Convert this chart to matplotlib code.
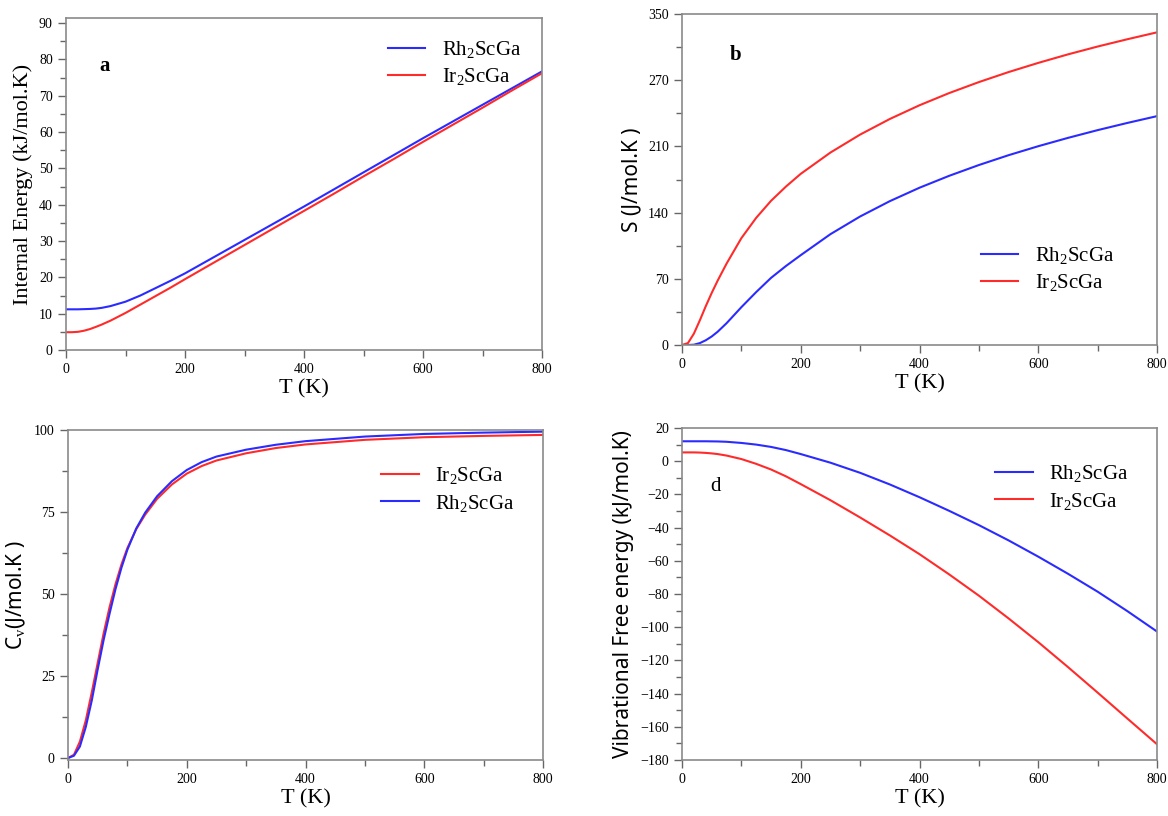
import matplotlib
matplotlib.use("Agg")
import matplotlib.pyplot as plt
from matplotlib.ticker import MultipleLocator, FixedLocator

plt.rcParams["font.family"] = "Liberation Serif"
plt.rcParams["mathtext.fontset"] = "custom"
plt.rcParams["mathtext.rm"] = "Liberation Serif"
plt.rcParams["mathtext.it"] = "Liberation Serif:italic"

# temperature grid (K)
T = [0, 10, 20, 30, 40, 50, 60, 75, 100, 125, 150, 175, 200,
     250, 300, 350, 400, 450, 500, 550, 600, 650, 700, 750, 800]

# (a) internal energy, kJ/mol.K
rh_U = [11.2, 11.2, 11.2, 11.25, 11.3, 11.4, 11.6, 12.1, 13.3, 15.0, 17.0, 19.0, 21.1,
        25.7, 30.3, 34.9, 39.5, 44.2, 48.9, 53.6, 58.3, 62.9, 67.5, 72.1, 76.7]
ir_U = [4.9, 4.9, 5.0, 5.3, 5.75, 6.35, 7.0, 8.1, 10.2, 12.5, 14.8, 17.1, 19.5,
        24.2, 28.9, 33.6, 38.3, 43.0, 47.8, 52.5, 57.3, 62.0, 66.7, 71.5, 76.2]

# (b) entropy, J/mol.K
rh_S = [0.0, 0.0, 0.3, 2.0, 5.0, 9.0, 14.0, 23.0, 40.0, 56.0, 71.0, 83.5, 95.0,
        117.2, 135.9, 152.1, 166.3, 178.9, 190.3, 200.7, 210.2, 219.0, 227.2, 234.8, 242.0]
ir_S = [0.0, 2.0, 12.0, 26.0, 41.0, 55.0, 68.0, 86.0, 113.0, 134.5, 152.5, 167.5, 181.0,
        203.5, 222.5, 239.0, 253.5, 266.4, 278.0, 288.6, 298.3, 307.3, 315.6, 323.3, 330.6]

# (c) heat capacity, J/mol.K (own, denser temperature grid)
T_cv = [0, 10, 20, 30, 40, 50, 60, 70, 80, 90, 100, 115, 130, 150, 175, 200,
        225, 250, 300, 350, 400, 500, 600, 700, 800]
rh_Cv = [0.0, 0.7, 3.5, 9.5, 17.5, 27.0, 36.0, 44.0, 51.5, 58.0, 63.5, 70.0, 74.8, 79.8,
         84.4, 87.8, 90.2, 91.9, 94.0, 95.5, 96.6, 98.0, 98.8, 99.2, 99.5]
ir_Cv = [0.0, 1.0, 5.0, 11.5, 20.0, 29.0, 38.0, 46.0, 53.0, 59.0, 64.0, 69.8, 74.2, 79.0,
         83.4, 86.7, 89.0, 90.7, 92.9, 94.5, 95.6, 97.0, 97.8, 98.2, 98.5]

# (d) vibrational free energy, kJ/mol.K
rh_F = [12.0, 12.0, 12.0, 12.0, 12.0, 11.95, 11.9, 11.7, 11.0, 10.0, 8.6, 6.7, 4.3,
        -0.9, -7.0, -14.0, -21.7, -29.9, -38.5, -47.7, -57.5, -67.8, -78.6, -90.3, -102.6]
ir_F = [5.3, 5.3, 5.3, 5.2, 5.0, 4.7, 4.3, 3.4, 1.3, -1.6, -5.0, -9.1, -13.8,
        -23.5, -33.9, -44.7, -56.0, -68.2, -81.0, -94.7, -109.0, -124.0, -139.4, -155.0, -170.5]

BLUE = "#2b2bff"
RED = "#ff2b2b"
RH = "Rh$_{2}$ScGa"
IR = "Ir$_{2}$ScGa"
SANS = "Noto Sans"


def style_axes(ax, ymajor, yminor):
    for s in ax.spines.values():
        s.set_color("#8a8a8a")
        s.set_linewidth(1.2)
    ax.set_xlim(0, 800)
    ax.xaxis.set_major_locator(MultipleLocator(200))
    ax.xaxis.set_minor_locator(MultipleLocator(100))
    if ymajor is not None:
        ax.yaxis.set_major_locator(MultipleLocator(ymajor))
    ax.yaxis.set_minor_locator(MultipleLocator(yminor))
    ax.tick_params(which="both", color="#666666", labelsize=10, width=1.0)
    ax.tick_params(which="major", length=6)
    ax.tick_params(which="minor", length=4)
    ax.set_xlabel("T (K)", fontsize=16, labelpad=2)


def add_legend(ax, **kw):
    ax.legend(frameon=False, fontsize=15, handlelength=1.8, labelspacing=0.3, **kw)


fig = plt.figure(figsize=(11.68, 8.16), dpi=100)
W, H = 1168, 816


def add_ax(l, r, t, b):
    return fig.add_axes([l / W, 1 - b / H, (r - l) / W, (b - t) / H])


# a
ax = add_ax(66, 542, 18, 350)
ax.plot(T, rh_U, color=BLUE, lw=1.5, label=RH)
ax.plot(T, ir_U, color=RED, lw=1.5, label=IR)
ax.set_ylim(0, 91.4)
style_axes(ax, 10, 5)
ax.set_ylabel("Internal Energy (kJ/mol.K)", fontsize=16, labelpad=4)
ax.text(0.07, 0.84, "a", transform=ax.transAxes, fontsize=15, fontweight="bold")
add_legend(ax, loc="upper right", borderaxespad=0.6)

# b
ax = add_ax(682, 1157, 14, 345)
ax.plot(T, rh_S, color=BLUE, lw=1.5, label=RH)
ax.plot(T, ir_S, color=RED, lw=1.5, label=IR)
ax.set_ylim(0, 350)
style_axes(ax, None, 35)
ax.yaxis.set_major_locator(FixedLocator([0, 70, 140, 210, 280, 350]))
ax.set_yticklabels(["0", "70", "140", "210", "270", "350"])
ax.set_ylabel("S (J/mol.K )", fontsize=15, labelpad=4, family=SANS)
ax.text(0.10, 0.86, "b", transform=ax.transAxes, fontsize=15, fontweight="bold")
add_legend(ax, loc="lower right", bbox_to_anchor=(0.95, 0.1))

# c
ax = add_ax(68, 543, 430, 760)
ax.plot(T_cv, ir_Cv, color=RED, lw=1.5, label=IR)
ax.plot(T_cv, rh_Cv, color=BLUE, lw=1.5, label=RH)
ax.set_ylim(-0.6, 100)
style_axes(ax, 25, 12.5)
ax.set_ylabel("C$_{\\mathrm{v}}$(J/mol.K )", fontsize=15, labelpad=4, family=SANS)
add_legend(ax, loc="upper right", bbox_to_anchor=(0.98, 0.95))

# d
ax = add_ax(682, 1157, 428, 760)
ax.plot(T, rh_F, color=BLUE, lw=1.5, label=RH)
ax.plot(T, ir_F, color=RED, lw=1.5, label=IR)
ax.set_ylim(-180, 20)
style_axes(ax, 20, 10)
ax.set_ylabel("Vibrational Free energy (kJ/mol.K)", fontsize=15, labelpad=4, family=SANS)
ax.text(0.06, 0.81, "d", transform=ax.transAxes, fontsize=15)
add_legend(ax, loc="upper right", bbox_to_anchor=(0.98, 0.95))

fig.savefig("out.png", dpi=100)
